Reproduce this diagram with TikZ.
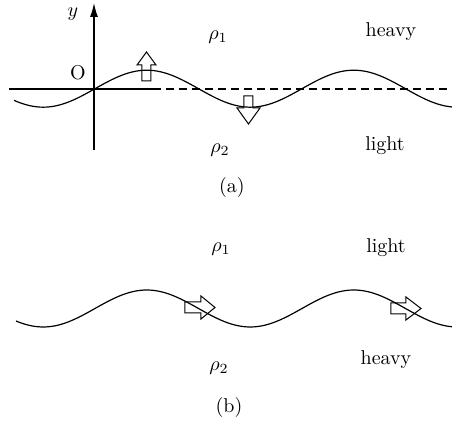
\documentclass[tikz,border=0pt]{standalone}
\usetikzlibrary{arrows.meta}
\begin{document}
\begin{tikzpicture}[x=0.5pt,y=-0.5pt,
  line/.style={line width=0.6pt},
  blockarrow/.style={line width=0.5pt, line join=miter},
  lbl/.style={inner sep=0pt, font=\fontsize{10}{12}\selectfont}]
\useasboundingbox (0,0) rectangle (452,421);
% ---------- (a) ----------
\coordinate (yb) at (94,150);
\coordinate (yt) at (94,3);
\coordinate (xl) at (9,89);
\coordinate (xm) at (153,89);
\coordinate (xr) at (452,89);
\draw[line,-{Latex[length=7pt,width=4pt]}] (yb) -- (yt);
\draw[line] (xl) -- (xm);
\draw[line,dash pattern=on 4pt off 2.5pt] (xm) -- (xr);
\draw[line] plot[domain=14:452, samples=120, smooth] (\x, {88.7 - 18.5*sin(1.73913*(\x-95))});
% up arrow
\draw[blockarrow] (142,81) -- (142,65) -- (137,65) -- (146.5,52) -- (156,65) -- (151,65) -- (151,81) -- cycle;
% down arrow
\draw[blockarrow] (244,96) -- (244,108) -- (237,108) -- (248.5,124) -- (260,108) -- (253,108) -- (253,96) -- cycle;
\node[lbl] (ylab) at (73,14) {$y$};
\node[lbl] (O) at (78,72.5) {O};
\node[lbl] (r1a) at (218,37) {$\rho_1$};
\node[lbl] (r2a) at (220,150) {$\rho_2$};
\node[lbl] (heavya) at (391,31.5) {heavy};
\node[lbl] (lighta) at (385,146) {light};
\node[lbl] (capa) at (232,188) {(a)};
% ---------- (b) ----------
\draw[line] plot[domain=16:452, samples=120, smooth] (\x, {308.5 - 18.5*sin(1.73913*(\x-95))});
% right arrows
\draw[blockarrow] (185,302) -- (201,302) -- (201,296) -- (215,307.5) -- (201,319) -- (201,313) -- (185,313) -- cycle;
\draw[blockarrow] (391,303) -- (406,303) -- (406,297) -- (421,308.5) -- (406,320) -- (406,314) -- (391,314) -- cycle;
\node[lbl] (r1b) at (221,249) {$\rho_1$};
\node[lbl] (lightb) at (386,248) {light};
\node[lbl] (r2b) at (219,368) {$\rho_2$};
\node[lbl] (heavyb) at (386,360) {heavy};
\node[lbl] (capb) at (229,408) {(b)};
\end{tikzpicture}
\end{document}
